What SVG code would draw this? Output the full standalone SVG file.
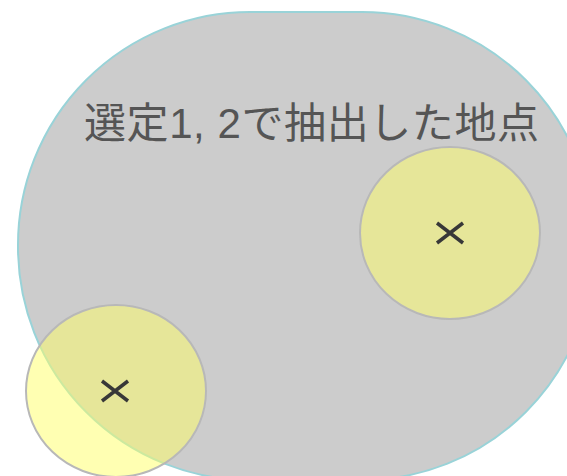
<svg xmlns="http://www.w3.org/2000/svg" width="567" height="476" viewBox="0 0 567 476">
<style>
.area{fill:#cccccc;stroke:#99d3d8;stroke-width:2}
.pt{fill:#ffff66;fill-opacity:0.5;stroke:#b8b8b8;stroke-width:2}
.x{stroke:#383838;stroke-width:3.5;fill:none}
.lbl{font-family:"Liberation Sans","Noto Sans CJK JP",sans-serif;font-size:42px;fill:#555555}
</style>
<rect width="567" height="476" fill="#ffffff"/>
<g id="area">
<rect class="area" x="18" y="12" width="576" height="468" rx="232" ry="233"/>
<text class="lbl" x="84" y="138" textLength="455" lengthAdjust="spacing">選定1, 2で抽出した地点</text>
</g>
<g id="point1">
<ellipse class="pt" cx="450" cy="233" rx="90" ry="86"/>
<path class="x" d="M437 223L463 243M437 243L463 223"/>
</g>
<g id="point2">
<ellipse class="pt" cx="116" cy="391" rx="90" ry="86"/>
<path class="x" d="M102 381L128 401M102 401L128 381"/>
</g>
<g id="connectors"/>
</svg>
